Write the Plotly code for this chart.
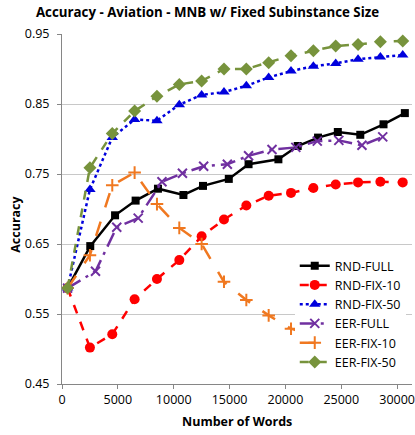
import plotly.graph_objects as go

x_fix = [500, 2500, 4500, 6500, 8500, 10500, 12500, 14500, 16500, 18500, 20500, 22500, 24500, 26500, 28500, 30500]
x_fix10_eer = [500, 2500, 4500, 6500, 8500, 10500, 12500, 14500, 16500, 18500, 20500, 22500]
x_rnd_full = [500, 2530, 4750, 6590, 8590, 10870, 12620, 14930, 16700, 19370, 21100, 22920, 24690, 26700, 28780, 30690]
x_eer_full = [500, 3000, 4900, 6820, 8950, 10780, 12680, 14800, 16700, 18800, 20930, 22850, 24780, 26850, 28710]

rnd_full = [0.587, 0.647, 0.691, 0.712, 0.729, 0.720, 0.733, 0.743, 0.764, 0.771, 0.790, 0.802, 0.810, 0.806, 0.821, 0.837]
rnd_fix10 = [0.587, 0.502, 0.521, 0.571, 0.600, 0.627, 0.661, 0.685, 0.705, 0.719, 0.723, 0.730, 0.735, 0.738, 0.739, 0.738]
rnd_fix50 = [0.587, 0.728, 0.802, 0.828, 0.826, 0.849, 0.863, 0.867, 0.876, 0.888, 0.897, 0.904, 0.908, 0.914, 0.917, 0.920]
eer_full = [0.587, 0.611, 0.674, 0.687, 0.739, 0.751, 0.761, 0.764, 0.776, 0.785, 0.788, 0.797, 0.798, 0.791, 0.803]
eer_fix10 = [0.587, 0.634, 0.734, 0.752, 0.707, 0.673, 0.650, 0.596, 0.570, 0.548, 0.529, 0.519]
eer_fix50 = [0.587, 0.759, 0.808, 0.840, 0.861, 0.878, 0.883, 0.900, 0.900, 0.909, 0.919, 0.926, 0.933, 0.935, 0.939, 0.940]

y_ticks = [0.45, 0.55, 0.65, 0.75, 0.85, 0.95]
y_tick_labels = ["0.45", "0.55", "0.65", "0.75", "0.85", "0.95"]
x_ticks = [0, 5000, 10000, 15000, 20000, 25000, 30000]
x_tick_labels = ["0", "5000", "10000", "15000", "20000", "25000", "30000"]

FONT = "Open Sans"

series = [
    ("RND-FULL", x_rnd_full, rnd_full, "#000000", "solid", "square", 8),
    ("RND-FIX-10", x_fix, rnd_fix10, "#ff0000", "dash", "circle", 10),
    ("RND-FIX-50", x_fix, rnd_fix50, "#0000dd", "dot", "triangle-up", 10),
    ("EER-FULL", x_eer_full, eer_full, "#7030a0", "longdashdot", "x-thin", 9),
    ("EER-FIX-10", x_fix10_eer, eer_fix10, "#f07820", "longdash", "cross-thin", 9),
    ("EER-FIX-50", x_fix, eer_fix50, "#77933c", "dash", "diamond", 10),
]

fig = go.Figure()
for name, xs, ys, color, dash, sym, size in series:
    marker = dict(symbol=sym, size=size, color=color)
    if sym.endswith("-thin"):
        marker["line"] = dict(color=color, width=2)
    fig.add_trace(go.Scatter(
        x=xs, y=ys, name=name, mode="lines+markers",
        line=dict(color=color, width=2.5, dash=dash),
        marker=marker,
    ))

fig.update_layout(
    width=415, height=435,
    margin=dict(l=62, r=0, t=34, b=51),
    paper_bgcolor="white", plot_bgcolor="white",
    font=dict(family=FONT, color="#404040", size=12),
    title=dict(text="<b>Accuracy - Aviation - MNB w/ Fixed Subinstance Size</b>",
               x=0.5, xanchor="center", y=0.972, yanchor="middle",
               font=dict(family=FONT, size=13.3, color="#000000")),
    showlegend=True,
    legend=dict(x=0.665, y=0.38, xanchor="left", yanchor="top",
                bgcolor="white", borderwidth=0,
                font=dict(family=FONT, size=12.5, color="#000000"),
                tracegroupgap=0),
    xaxis=dict(range=[0, 31330], tickvals=x_ticks, ticktext=x_tick_labels,
               showgrid=False, showline=True, linecolor="#868686", linewidth=1,
               ticks="outside", ticklen=4, tickcolor="#868686", zeroline=False,
               ticklabeloverflow="allow",
               tickfont=dict(family=FONT, size=12.5, color="#000000")),
    yaxis=dict(range=[0.45, 0.95], tickvals=y_ticks, ticktext=y_tick_labels,
               showgrid=True, gridcolor="#c8c8c8", gridwidth=1,
               showline=True, linecolor="#868686", linewidth=1,
               ticks="outside", ticklen=4, tickcolor="#868686", zeroline=False,
               ticklabelstandoff=5,
               tickfont=dict(family=FONT, size=12.5, color="#000000")),
    annotations=[
        dict(text="<b>Number of Words</b>", xref="paper", yref="paper",
             x=0.5, y=-0.106, xanchor="center", yanchor="middle", showarrow=False,
             font=dict(family=FONT, size=12.5, color="#000000")),
        dict(text="<b>Accuracy</b>", xref="paper", yref="paper",
             x=-0.135, y=0.457, xanchor="center", yanchor="middle", showarrow=False,
             textangle=-90, font=dict(family=FONT, size=12.5, color="#000000")),
    ],
)

fig.write_html("out.html")
